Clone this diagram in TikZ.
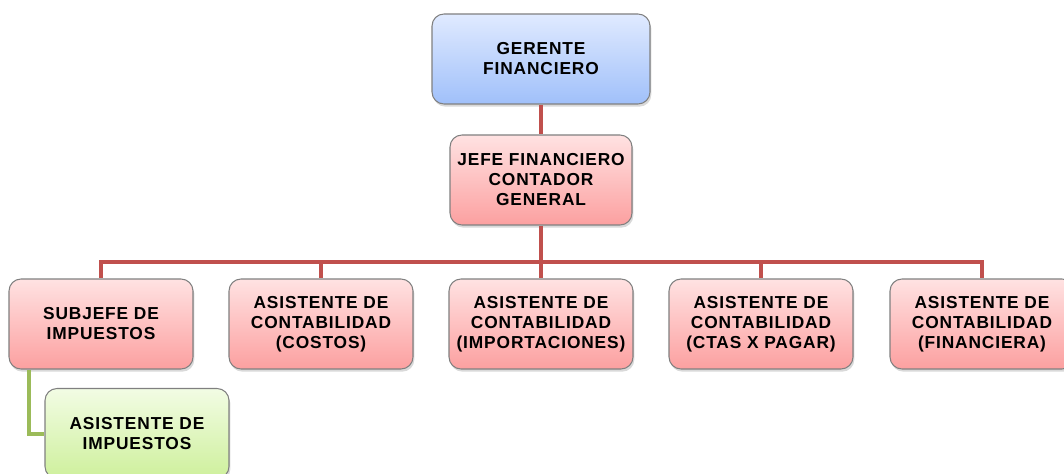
\documentclass[tikz,border=0pt]{standalone}
\usepackage{fontspec}
\setmainfont{Liberation Sans}[LetterSpace=5]
\usepackage{tikz}
\usetikzlibrary{shadows,positioning}

\definecolor{linkred}{RGB}{192,80,77}
\definecolor{linkgreen}{RGB}{155,187,89}
\definecolor{redtop}{RGB}{255,226,226}
\definecolor{redbot}{RGB}{252,160,160}
\definecolor{bluetop}{RGB}{224,234,255}
\definecolor{bluebot}{RGB}{160,192,250}
\definecolor{greentop}{RGB}{242,252,228}
\definecolor{greenbot}{RGB}{206,240,156}

\tikzset{
	post/.style={draw=gray, line width=0.8pt, rounded corners=9pt, align=center,
		minimum width=138pt, minimum height=67.5pt, inner sep=1pt,
		font=\bfseries\fontsize{13}{15}\selectfont,
		top color=redtop, bottom color=redbot,
		drop shadow={opacity=0.3, shadow xshift=1pt, shadow yshift=-2pt}},
	chief/.style={post, top color=bluetop, bottom color=bluebot, minimum width=163.5pt},
	helper/.style={post, top color=greentop, bottom color=greenbot},
	link/.style={linkred, line width=3pt},
	sublink/.style={linkgreen, line width=3pt}
}

\begin{document}
\begin{tikzpicture}[x=0.75pt, y=-0.75pt]
		\clip (0,0) rectangle (1064,474);
		% top
		\node[chief] (gerente) at (541,59) {GERENTE\\FINANCIERO};
		\node[post, minimum width=136.5pt] (jefe) at (541,180) {JEFE FINANCIERO\\CONTADOR\\GENERAL};
		% second row
		\node[post] (subjefe) at (101,324) {SUBJEFE DE\\IMPUESTOS};
		\node[post] (costos) at (321,324) {ASISTENTE DE\\CONTABILIDAD\\(COSTOS)};
		\node[post] (import) at (541,324) {ASISTENTE DE\\CONTABILIDAD\\(IMPORTACIONES)};
		\node[post] (ctas) at (761,324) {ASISTENTE DE\\CONTABILIDAD\\(CTAS X PAGAR)};
		\node[post] (finan) at (982,324) {ASISTENTE DE\\CONTABILIDAD\\(FINANCIERA)};
		% third row
		\node[helper] (asist) at (137,433.5) {ASISTENTE DE\\IMPUESTOS};
		
		% links
		\coordinate (bus) at (541,262);
		\draw[link] (gerente) -- (jefe);
		\draw[link] (jefe) -- (bus);
		\foreach \n in {subjefe,costos,import,ctas,finan}
			\draw[link] (bus) -| (\n);
		\draw[sublink] (subjefe.south west) ++(21,0) |- (asist.west);
	\end{tikzpicture}
\end{document}
